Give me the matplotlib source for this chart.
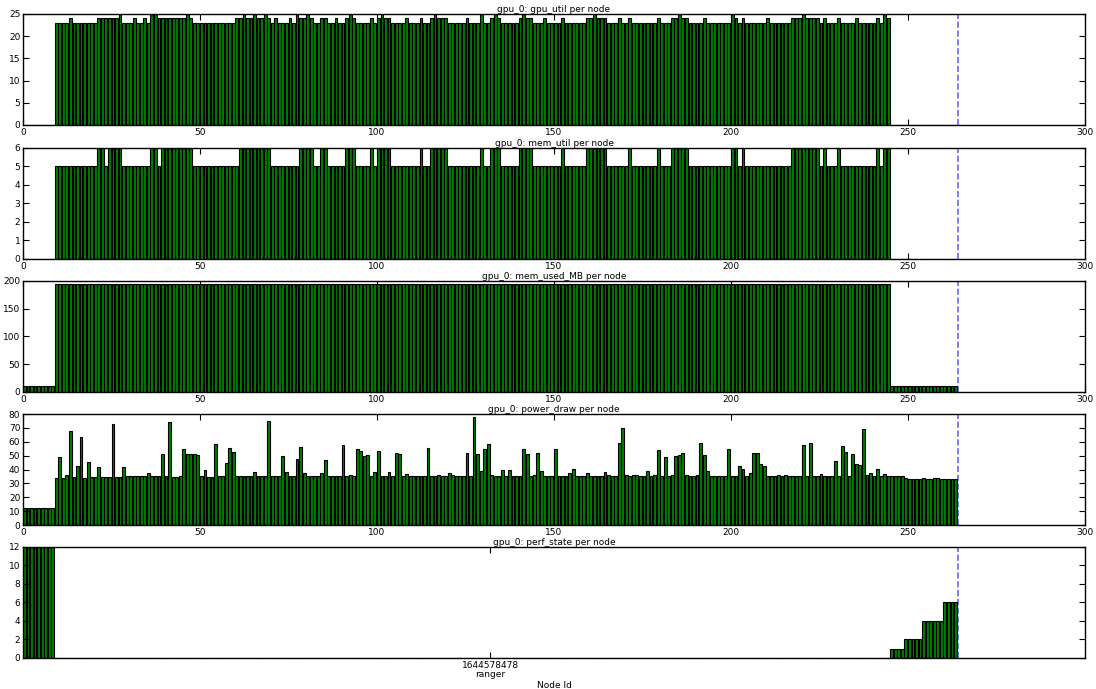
#!/usr/bin/env python3
# -*- coding: utf-8 -*-
"""
Per-node GPU metrics for one job: five stacked bar panels, one per metric.
"""

import numpy as np
import matplotlib
matplotlib.use("Agg")
import matplotlib.pyplot as plt

# ================= DATA =================
JOB_ID = "1644578478"
HOST = "ranger"
N_NODES = 264

GPU_UTIL = [
    0, 0, 0, 0, 0, 0, 0, 0, 0, 23, 23, 23, 23, 24, 23, 23, 23, 23, 23, 23,
    23, 24, 24, 24, 24, 24, 24, 25, 23, 23, 23, 24, 23, 23, 24, 23, 25, 25, 24, 24,
    24, 24, 24, 24, 24, 24, 25, 24, 23, 23, 23, 23, 23, 23, 23, 23, 23, 23, 23, 23,
    24, 24, 25, 24, 24, 25, 24, 24, 25, 24, 23, 24, 23, 23, 23, 24, 23, 25, 24, 24,
    25, 24, 23, 23, 24, 24, 23, 23, 24, 23, 23, 24, 25, 24, 23, 23, 23, 23, 24, 23,
    24, 25, 24, 24, 23, 23, 23, 23, 24, 23, 23, 23, 24, 23, 23, 24, 25, 24, 24, 24,
    23, 23, 23, 23, 23, 24, 23, 23, 23, 25, 23, 23, 24, 25, 24, 23, 23, 23, 23, 23,
    24, 25, 24, 24, 23, 23, 23, 24, 23, 23, 23, 23, 24, 23, 23, 23, 23, 23, 23, 24,
    24, 25, 24, 24, 24, 23, 23, 23, 24, 23, 23, 24, 23, 23, 23, 23, 23, 23, 23, 24,
    23, 23, 23, 24, 24, 25, 24, 24, 23, 23, 23, 23, 24, 23, 23, 23, 23, 23, 23, 23,
    25, 24, 23, 24, 23, 23, 23, 23, 23, 23, 24, 23, 23, 23, 23, 23, 23, 24, 24, 24,
    25, 24, 24, 24, 24, 23, 24, 23, 23, 23, 24, 23, 23, 23, 23, 24, 23, 23, 23, 23,
    23, 24, 23, 25, 24, 0, 0, 0, 0, 0, 0, 0, 0, 0, 0, 0, 0, 0, 0, 0,
    0, 0, 0, 0,
]

MEM_UTIL = [
    0, 0, 0, 0, 0, 0, 0, 0, 0, 5, 5, 5, 5, 5, 5, 5, 5, 5, 5, 5,
    5, 6, 6, 5, 6, 6, 6, 6, 5, 5, 5, 5, 5, 5, 5, 5, 6, 6, 5, 6,
    6, 6, 6, 6, 6, 6, 6, 6, 5, 5, 5, 5, 5, 5, 5, 5, 5, 5, 5, 5,
    5, 6, 6, 6, 6, 6, 6, 6, 6, 6, 5, 5, 5, 5, 5, 5, 5, 5, 6, 6,
    6, 6, 5, 5, 6, 6, 5, 5, 5, 5, 5, 6, 6, 6, 5, 5, 5, 5, 6, 5,
    6, 6, 6, 6, 5, 5, 5, 5, 5, 5, 5, 5, 6, 5, 5, 6, 6, 6, 6, 6,
    5, 5, 5, 5, 5, 5, 5, 5, 5, 6, 5, 5, 6, 6, 6, 5, 5, 5, 5, 5,
    6, 6, 6, 6, 5, 5, 5, 5, 5, 5, 5, 5, 6, 5, 5, 5, 5, 5, 5, 6,
    6, 6, 6, 6, 6, 5, 5, 5, 5, 5, 5, 6, 5, 5, 5, 5, 5, 5, 5, 6,
    5, 5, 5, 6, 6, 6, 6, 6, 5, 5, 5, 5, 5, 5, 5, 5, 5, 5, 5, 5,
    6, 6, 5, 6, 5, 5, 5, 5, 5, 5, 5, 5, 5, 5, 5, 5, 5, 6, 6, 6,
    6, 6, 6, 6, 6, 5, 6, 5, 5, 5, 6, 5, 5, 5, 5, 5, 5, 5, 5, 5,
    5, 6, 5, 6, 6, 0, 0, 0, 0, 0, 0, 0, 0, 0, 0, 0, 0, 0, 0, 0,
    0, 0, 0, 0,
]

MEM_USED_MB = [10] * 9 + [195] * 236 + [10] * 19

POWER_DRAW = [
    12.5, 12.5, 12.5, 12.4, 12.5, 12.5, 12.4, 12.4, 12.4, 34.1,
    49.0, 34.0, 35.8, 67.8, 34.4, 42.5, 63.7, 34.0, 45.4, 34.4,
    34.4, 42.0, 34.4, 34.4, 34.4, 72.6, 34.4, 34.4, 41.8, 35.0,
    35.0, 35.0, 35.0, 35.2, 35.3, 37.5, 35.0, 35.0, 35.0, 51.0,
    35.0, 74.5, 34.5, 34.5, 35.6, 54.8, 51.0, 51.1, 51.0, 50.8,
    35.0, 39.4, 34.8, 34.8, 58.4, 35.5, 35.5, 44.7, 55.5, 52.9,
    35.5, 35.0, 35.0, 35.0, 35.0, 38.0, 35.0, 35.0, 35.0, 75.2,
    35.0, 35.0, 35.0, 50.0, 38.0, 35.0, 35.0, 47.6, 56.5, 37.7,
    35.0, 35.0, 35.0, 35.0, 37.3, 46.9, 35.0, 35.0, 35.0, 35.0,
    57.5, 35.6, 35.8, 35.0, 55.0, 53.6, 49.8, 50.7, 35.0, 38.2,
    53.6, 35.0, 35.2, 38.5, 35.2, 51.7, 51.2, 35.2, 36.5, 35.2,
    35.2, 35.2, 35.4, 35.4, 55.8, 35.2, 35.2, 36.0, 35.2, 35.2,
    37.3, 35.8, 35.2, 35.2, 35.2, 51.7, 35.4, 77.6, 51.0, 39.2,
    55.0, 58.7, 35.8, 35.2, 35.2, 39.4, 35.2, 39.7, 35.2, 35.2,
    35.2, 55.0, 51.4, 35.2, 35.8, 51.7, 38.7, 35.6, 35.6, 35.6,
    55.0, 35.6, 35.6, 35.4, 37.3, 40.6, 35.6, 35.6, 35.6, 37.5,
    35.4, 35.4, 35.4, 35.4, 38.0, 35.8, 35.4, 35.6, 58.9, 70.2,
    35.8, 35.4, 35.8, 35.8, 35.4, 35.4, 38.7, 35.4, 35.8, 53.8,
    35.4, 49.0, 35.4, 35.8, 50.0, 50.2, 51.7, 35.8, 35.6, 35.6,
    35.8, 58.9, 50.7, 38.9, 35.2, 35.2, 35.6, 35.2, 35.2, 54.8,
    35.2, 35.0, 42.5, 40.6, 35.2, 37.7, 51.7, 51.7, 44.0, 42.3,
    35.4, 35.4, 35.4, 35.8, 35.4, 36.0, 35.4, 35.6, 35.6, 35.6,
    57.5, 35.4, 58.9, 35.4, 35.4, 36.5, 35.2, 35.4, 35.6, 46.2,
    35.4, 57.0, 52.6, 35.4, 51.4, 44.0, 43.0, 69.0, 35.8, 37.3,
    35.6, 40.1, 35.6, 36.8, 35.4, 35.2, 35.0, 35.0, 35.0, 33.6,
    33.4, 33.4, 33.4, 33.4, 33.6, 33.2, 33.2, 33.7, 33.7, 33.2,
    33.2, 33.2, 33.2, 33.2,
]

PERF_STATE = [12] * 9 + [0] * 236 + [1] * 4 + [2] * 5 + [4] * 6 + [6] * 4

PANELS = [
    ("gpu_util", GPU_UTIL, (0, 25), np.arange(0, 26, 5)),
    ("mem_util", MEM_UTIL, (0, 6), np.arange(0, 7, 1)),
    ("mem_used_MB", MEM_USED_MB, (0, 200), np.arange(0, 201, 50)),
    ("power_draw", POWER_DRAW, (0, 80), np.arange(0, 81, 10)),
    ("perf_state", PERF_STATE, (0, 12), np.arange(0, 13, 2)),
]

# axes boxes in figure fraction: left, bottom, width, height
AX_LEFT = 0.021
AX_WIDTH = 0.969
AX_BOTTOMS = [0.8186, 0.6241, 0.4311, 0.2380, 0.0450]
AX_HEIGHT = 0.1611
# ========================================


def setup_style():
    plt.rcParams.update({
        "font.family": "DejaVu Sans",
        "font.size": 6.5,
        "axes.linewidth": 1.0,
        "xtick.direction": "in",
        "ytick.direction": "in",
        "xtick.top": True,
        "ytick.right": True,
        "xtick.major.size": 4,
        "ytick.major.size": 4,
        "xtick.major.pad": 2.5,
        "ytick.major.pad": 2,
        "xtick.labelsize": 6.5,
        "ytick.labelsize": 6.5,
    })


def draw_panel(ax, name, values, ylim, yticks, last):
    x = np.arange(len(values))
    ax.bar(x, values, width=0.8, align="edge", color="g",
           edgecolor="k", linewidth=0.8)
    ax.axvline(N_NODES, color="b", linestyle="--", linewidth=1.2, alpha=0.6)
    ax.set_xlim(0, 300)
    ax.set_ylim(*ylim)
    ax.set_yticks(yticks)
    ax.set_title(f"gpu_0: {name} per node", fontsize=6.5, pad=1.5)
    if last:
        ax.set_xticks([N_NODES // 2])
        ax.set_xticklabels([f"{JOB_ID}\n{HOST}"], linespacing=1.0)
        ax.set_xlabel("Node Id", fontsize=6.5, labelpad=1)
    else:
        ax.set_xticks(np.arange(0, 301, 50))


def main():
    setup_style()
    fig = plt.figure(figsize=(10.96, 6.89), dpi=100, facecolor="white")
    for i, (name, values, ylim, yticks) in enumerate(PANELS):
        ax = fig.add_axes([AX_LEFT, AX_BOTTOMS[i], AX_WIDTH, AX_HEIGHT])
        draw_panel(ax, name, values, ylim, yticks, last=(i == len(PANELS) - 1))
    fig.savefig("out.png", dpi=100, facecolor="white")


if __name__ == "__main__":
    main()
